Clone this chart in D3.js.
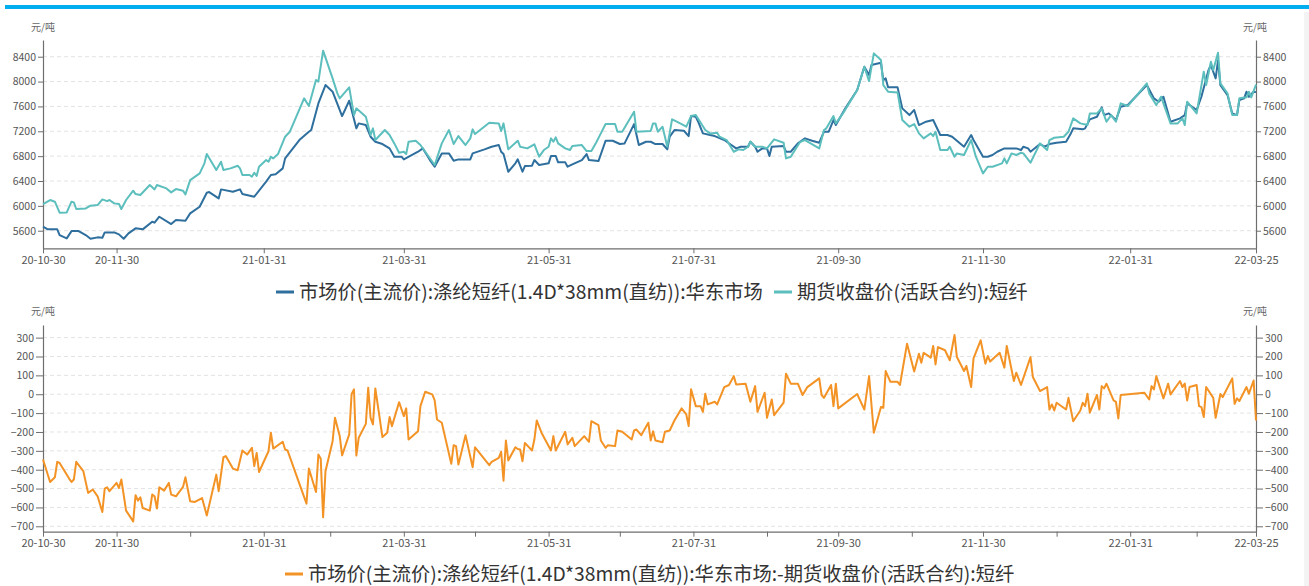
<!DOCTYPE html>
<html><head><meta charset="utf-8">
<script src="https://cdn.jsdelivr.net/npm/d3@7/dist/d3.min.js"></script>
<style>
body{margin:0;background:#fff;}
svg{display:block;font-family:"Noto Sans CJK SC","Microsoft YaHei",sans-serif;}
</style></head><body>
<svg id="c" width="1309" height="586"></svg>
<script>
// ---------------- DATA ----------------
const unitLabel = "元/吨";
const spotName = "市场价(主流价):涤纶短纤(1.4D*38mm(直纺)):华东市场";
const futuresName = "期货收盘价(活跃合约):短纤";
const spreadName = "市场价(主流价):涤纶短纤(1.4D*38mm(直纺)):华东市场:-期货收盘价(活跃合约):短纤";

const labelTicks = ["2020-10-30","2020-11-30","2021-01-31","2021-03-31","2021-05-31","2021-07-31","2021-09-30","2021-11-30","2022-01-31","2022-03-25"];
const minorTicks = ["2020-12-31","2021-02-28","2021-04-30","2021-06-30","2021-08-31","2021-10-31","2021-12-31","2022-02-28"];
const priceTicks = [5600,6000,6400,6800,7200,7600,8000,8400];
const spreadTicks = [-700,-600,-500,-400,-300,-200,-100,0,100,200,300];

const spotSeries = [
["2020-10-30",5664],["2020-11-01",5622],["2020-11-05",5622],["2020-11-06",5530],["2020-11-09",5477],["2020-11-11",5594],["2020-11-14",5594],["2020-11-17",5530],["2020-11-19",5471],["2020-11-22",5493],["2020-11-24",5487],["2020-11-25",5573],["2020-11-29",5573],["2020-12-01",5541],["2020-12-03",5471],["2020-12-05",5557],["2020-12-08",5638],["2020-12-11",5622],["2020-12-15",5745],["2020-12-16",5729],["2020-12-18",5825],["2020-12-23",5707],["2020-12-25",5771],["2020-12-29",5761],["2020-12-31",5879],
["2021-01-04",5986],["2021-01-07",6211],["2021-01-08",6222],["2021-01-12",6120],["2021-01-13",6265],["2021-01-18",6228],["2021-01-21",6265],["2021-01-22",6190],["2021-01-27",6147],["2021-02-01",6389],["2021-02-03",6496],["2021-02-05",6507],["2021-02-08",6603],["2021-02-09",6764],["2021-02-15",7059],["2021-02-19",7193],["2021-02-20",7220],["2021-02-23",7649],["2021-02-26",7944],["2021-03-01",7837],["2021-03-05",7445],["2021-03-08",7692],["2021-03-11",7247],["2021-03-12",7327],["2021-03-15",7300],["2021-03-17",7113],["2021-03-19",7032],["2021-03-22",6995],["2021-03-25",6925],["2021-03-27",6791],["2021-03-30",6791],["2021-03-31",6748],
["2021-04-06",6871],["2021-04-08",6925],["2021-04-11",6737],["2021-04-13",6630],["2021-04-16",6844],["2021-04-19",6844],["2021-04-21",6726],["2021-04-23",6748],["2021-04-28",6748],["2021-04-29",6844],["2021-05-04",6909],["2021-05-07",6952],["2021-05-10",6979],["2021-05-11",6871],["2021-05-12",6834],["2021-05-14",6549],["2021-05-17",6684],["2021-05-18",6748],["2021-05-20",6549],["2021-05-21",6641],["2021-05-24",6646],["2021-05-25",6737],["2021-05-27",6657],["2021-05-31",6684],
["2021-06-01",6802],["2021-06-03",6802],["2021-06-04",6700],["2021-06-07",6700],["2021-06-08",6630],["2021-06-10",6667],["2021-06-14",6737],["2021-06-16",6834],["2021-06-17",6737],["2021-06-21",6721],["2021-06-24",7048],["2021-06-27",7048],["2021-06-30",6995],["2021-07-02",7005],["2021-07-06",7316],["2021-07-08",6979],["2021-07-11",7032],["2021-07-13",7032],["2021-07-15",6995],["2021-07-18",6995],["2021-07-20",6909],["2021-07-21",7113],["2021-07-23",7220],["2021-07-27",7209],["2021-07-29",7123],["2021-07-30",7445],
["2021-08-01",7434],["2021-08-02",7354],["2021-08-04",7166],["2021-08-07",7140],["2021-08-09",7123],["2021-08-13",7059],["2021-08-16",6979],["2021-08-18",6925],["2021-08-20",6952],["2021-08-23",6952],["2021-08-24",7032],["2021-08-26",6952],["2021-08-27",6871],["2021-08-29",6925],["2021-08-31",6925],["2021-09-01",6802],["2021-09-02",6952],["2021-09-07",6962],["2021-09-08",6871],["2021-09-10",6871],["2021-09-13",7005],["2021-09-16",7086],["2021-09-19",7048],["2021-09-22",7016],["2021-09-24",7193],["2021-09-26",7193],["2021-09-28",7381],["2021-09-29",7300],
["2021-10-03",7569],["2021-10-08",7864],["2021-10-11",8239],["2021-10-13",8105],["2021-10-14",8266],["2021-10-18",8303],["2021-10-19",8024],["2021-10-20",8051],["2021-10-21",7907],["2021-10-25",7907],["2021-10-27",7569],["2021-10-30",7461],["2021-11-01",7542],["2021-11-03",7300],["2021-11-06",7354],["2021-11-09",7381],["2021-11-12",7140],["2021-11-15",7140],["2021-11-17",7113],["2021-11-22",6952],["2021-11-25",7140],["2021-11-26",7059],["2021-11-30",6791],
["2021-12-02",6791],["2021-12-04",6818],["2021-12-06",6871],["2021-12-09",6925],["2021-12-14",6925],["2021-12-16",6898],["2021-12-17",6952],["2021-12-19",6925],["2021-12-20",6871],["2021-12-24",6995],["2021-12-26",6952],["2021-12-28",6995],["2021-12-31",7016],
["2022-01-04",7032],["2022-01-06",7166],["2022-01-07",7247],["2022-01-11",7231],["2022-01-12",7247],["2022-01-14",7392],["2022-01-17",7434],["2022-01-19",7585],["2022-01-20",7461],["2022-01-22",7488],["2022-01-25",7381],["2022-01-27",7595],["2022-01-30",7622],["2022-02-07",7944],["2022-02-10",7730],["2022-02-12",7676],["2022-02-14",7756],["2022-02-17",7354],["2022-02-21",7408],["2022-02-23",7461],["2022-02-24",7649],["2022-02-28",7542],
["2022-03-02",7756],["2022-03-05",8185],["2022-03-06",8266],["2022-03-08",8051],["2022-03-09",8340],["2022-03-10",7944],["2022-03-13",7783],["2022-03-15",7488],["2022-03-17",7461],["2022-03-18",7703],["2022-03-20",7730],["2022-03-21",7837],["2022-03-22",7756],["2022-03-24",7837],["2022-03-25",7830]
];

const futuresSeries = [
["2020-10-30",6029],["2020-11-02",6094],["2020-11-04",6067],["2020-11-06",5890],["2020-11-09",5895],["2020-11-11",6067],["2020-11-12",6056],["2020-11-13",5949],["2020-11-17",5959],["2020-11-19",6002],["2020-11-22",6013],["2020-11-24",6104],["2020-11-26",6077],["2020-11-27",6094],["2020-11-29",6040],["2020-12-01",6029],["2020-12-02",5949],["2020-12-04",6094],["2020-12-07",6244],["2020-12-08",6190],["2020-12-10",6174],["2020-12-14",6335],["2020-12-16",6265],["2020-12-17",6335],["2020-12-21",6281],["2020-12-23",6217],["2020-12-25",6270],["2020-12-28",6244],["2020-12-29",6185],["2020-12-31",6415],
["2021-01-04",6523],["2021-01-06",6684],["2021-01-07",6834],["2021-01-11",6576],["2021-01-13",6710],["2021-01-14",6576],["2021-01-17",6603],["2021-01-20",6646],["2021-01-21",6603],["2021-01-22",6496],["2021-01-25",6496],["2021-01-26",6469],["2021-01-27",6533],["2021-01-28",6480],["2021-01-29",6630],["2021-02-01",6737],["2021-02-02",6710],["2021-02-03",6791],["2021-02-04",6764],["2021-02-06",6834],["2021-02-09",7113],["2021-02-11",7193],["2021-02-17",7730],["2021-02-19",7606],["2021-02-22",8024],["2021-02-23",7998],["2021-02-25",8497],
["2021-03-01",8051],["2021-03-03",7810],["2021-03-04",7730],["2021-03-08",7907],["2021-03-10",7461],["2021-03-11",7569],["2021-03-15",7434],["2021-03-17",7140],["2021-03-18",7247],["2021-03-19",7059],["2021-03-23",7220],["2021-03-25",7140],["2021-03-27",7005],["2021-03-29",6855],["2021-03-31",6871],["2021-04-01",6834],["2021-04-02",7032],["2021-04-05",7048],["2021-04-07",6979],["2021-04-13",6657],["2021-04-16",7005],["2021-04-19",7220],["2021-04-21",6995],["2021-04-23",7123],["2021-04-26",6979],["2021-04-28",7086],["2021-04-29",7231],["2021-04-30",7156],
["2021-05-06",7338],["2021-05-10",7327],["2021-05-11",7204],["2021-05-12",7327],["2021-05-14",6909],["2021-05-18",7048],["2021-05-19",6952],["2021-05-22",6925],["2021-05-25",6990],["2021-05-27",6791],["2021-05-29",6898],["2021-05-31",6952],["2021-06-01",7086],["2021-06-02",7032],["2021-06-03",7102],["2021-06-04",7005],["2021-06-07",6925],["2021-06-09",6898],["2021-06-10",6962],["2021-06-14",6979],["2021-06-16",6882],["2021-06-18",6882],["2021-06-20",7016],["2021-06-22",7166],["2021-06-24",7316],["2021-06-28",7316],["2021-06-29",7193],
["2021-07-01",7193],["2021-07-06",7515],["2021-07-07",7193],["2021-07-13",7204],["2021-07-14",7327],["2021-07-15",7327],["2021-07-16",7193],["2021-07-18",7274],["2021-07-20",6952],["2021-07-22",7392],["2021-07-24",7354],["2021-07-28",7274],["2021-07-30",7445],["2021-08-01",7461],["2021-08-05",7220],["2021-08-07",7166],["2021-08-10",7177],["2021-08-11",7113],["2021-08-14",7059],["2021-08-17",6871],["2021-08-19",6909],["2021-08-21",6898],["2021-08-23",6952],["2021-08-24",7032],["2021-08-26",6952],["2021-08-29",6952],["2021-08-31",6925],
["2021-09-03",7070],["2021-09-07",7016],["2021-09-08",6764],["2021-09-10",6791],["2021-09-14",7032],["2021-09-16",7059],["2021-09-22",6925],["2021-09-24",7220],["2021-09-25",7247],["2021-09-28",7445],["2021-09-29",7327],["2021-10-02",7488],["2021-10-08",7864],["2021-10-11",8239],["2021-10-13",8008],["2021-10-15",8454],["2021-10-18",8346],["2021-10-19",7944],["2021-10-21",7837],["2021-10-25",7826],["2021-10-27",7381],["2021-10-30",7274],
["2021-11-01",7316],["2021-11-03",7166],["2021-11-05",7086],["2021-11-08",7166],["2021-11-09",7123],["2021-11-10",7193],["2021-11-12",6898],["2021-11-15",6898],["2021-11-16",6952],["2021-11-18",6791],["2021-11-19",6844],["2021-11-22",6818],["2021-11-25",7059],["2021-11-27",6791],["2021-11-30",6523],["2021-12-02",6630],["2021-12-04",6630],["2021-12-08",6684],["2021-12-09",6764],["2021-12-10",6684],["2021-12-12",6844],["2021-12-14",6818],["2021-12-16",6855],["2021-12-17",6844],["2021-12-20",6694],["2021-12-24",7005],["2021-12-27",6898],["2021-12-28",7059],["2021-12-30",7096],
["2022-01-03",7113],["2022-01-05",7193],["2022-01-07",7408],["2022-01-10",7327],["2022-01-13",7300],["2022-01-14",7488],["2022-01-17",7488],["2022-01-19",7569],["2022-01-21",7354],["2022-01-23",7461],["2022-01-25",7354],["2022-01-27",7649],["2022-01-30",7606],["2022-02-07",7971],["2022-02-08",7810],["2022-02-11",7622],["2022-02-13",7756],["2022-02-17",7327],["2022-02-20",7327],["2022-02-22",7408],["2022-02-23",7300],["2022-02-24",7676],["2022-02-28",7488],
["2022-03-03",8159],["2022-03-04",7944],["2022-03-06",8319],["2022-03-07",8185],["2022-03-09",8464],["2022-03-10",7971],["2022-03-13",7810],["2022-03-15",7461],["2022-03-17",7461],["2022-03-18",7730],["2022-03-21",7746],["2022-03-22",7837],["2022-03-23",7746],["2022-03-25",7950]
];

const spreadSeries = [
["2020-10-30",-346],["2020-11-02",-465],["2020-11-04",-440],["2020-11-05",-358],["2020-11-06",-364],["2020-11-10",-447],["2020-11-11",-465],["2020-11-12",-452],["2020-11-13",-358],["2020-11-16",-408],["2020-11-18",-523],["2020-11-20",-505],["2020-11-22",-541],["2020-11-24",-624],["2020-11-25",-500],["2020-11-26",-493],["2020-11-27",-514],["2020-11-30",-470],["2020-12-01",-497],["2020-12-02",-452],["2020-12-04",-617],["2020-12-07",-674],["2020-12-08",-535],["2020-12-09",-564],["2020-12-10",-546],["2020-12-11",-603],["2020-12-14",-617],["2020-12-15",-532],["2020-12-16",-541],["2020-12-17",-606],["2020-12-18",-493],["2020-12-20",-511],["2020-12-22",-470],["2020-12-23",-532],["2020-12-25",-541],["2020-12-28",-491],["2020-12-29",-440],["2020-12-31",-567],
["2021-01-02",-571],["2021-01-05",-550],["2021-01-07",-643],["2021-01-11",-426],["2021-01-12",-514],["2021-01-14",-334],["2021-01-15",-328],["2021-01-18",-394],["2021-01-20",-403],["2021-01-22",-298],["2021-01-24",-320],["2021-01-26",-284],["2021-01-27",-381],["2021-01-28",-311],["2021-01-29",-412],["2021-02-02",-302],["2021-02-03",-204],["2021-02-04",-288],["2021-02-08",-252],["2021-02-09",-293],["2021-02-10",-298],["2021-02-18",-580],["2021-02-19",-394],["2021-02-22",-518],["2021-02-23",-320],["2021-02-24",-342],["2021-02-25",-652],["2021-02-26",-408],
["2021-03-01",-249],["2021-03-02",-125],["2021-03-04",-222],["2021-03-05",-324],["2021-03-08",-213],["2021-03-09",1],["2021-03-10",26],["2021-03-11",-325],["2021-03-12",-231],["2021-03-15",-157],["2021-03-16",34],["2021-03-17",-125],["2021-03-18",-160],["2021-03-19",31],["2021-03-22",-227],["2021-03-24",-204],["2021-03-25",-121],["2021-03-26",-169],["2021-03-29",-42],["2021-03-31",-116],["2021-04-01",-75],["2021-04-02",-240],["2021-04-06",-196],["2021-04-07",-63],["2021-04-09",13],["2021-04-12",-1],["2021-04-13",-33],["2021-04-14",-134],["2021-04-16",-151],["2021-04-20",-369],["2021-04-21",-270],["2021-04-22",-275],["2021-04-23",-373],["2021-04-26",-217],["2021-04-29",-387],["2021-04-30",-281],
["2021-05-06",-376],["2021-05-07",-358],["2021-05-10",-337],["2021-05-11",-305],["2021-05-12",-458],["2021-05-13",-245],["2021-05-14",-351],["2021-05-17",-281],["2021-05-18",-290],["2021-05-19",-293],["2021-05-20",-355],["2021-05-21",-258],["2021-05-24",-298],["2021-05-25",-240],["2021-05-26",-139],["2021-05-28",-204],["2021-06-01",-298],["2021-06-02",-222],["2021-06-03",-298],["2021-06-07",-199],["2021-06-08",-266],["2021-06-10",-231],["2021-06-11",-275],["2021-06-15",-222],["2021-06-17",-252],["2021-06-18",-143],["2021-06-21",-164],["2021-06-22",-245],["2021-06-24",-284],["2021-06-25",-270],["2021-06-28",-275],["2021-06-29",-192],
["2021-07-01",-199],["2021-07-05",-240],["2021-07-06",-192],["2021-07-07",-187],["2021-07-09",-217],["2021-07-12",-151],["2021-07-13",-245],["2021-07-14",-196],["2021-07-15",-245],["2021-07-18",-254],["2021-07-19",-199],["2021-07-21",-192],["2021-07-23",-139],["2021-07-26",-75],["2021-07-28",-107],["2021-07-29",-169],["2021-07-30",26],["2021-08-01",-63],["2021-08-03",-63],["2021-08-04",-93],["2021-08-05",3],["2021-08-06",-54],["2021-08-09",-40],["2021-08-10",-54],["2021-08-13",38],["2021-08-15",49],["2021-08-17",96],["2021-08-18",52],["2021-08-22",56],["2021-08-24",-40],["2021-08-26",43],["2021-08-27",-93],["2021-08-30",8],["2021-08-31",-125],
["2021-09-02",-28],["2021-09-03",-111],["2021-09-07",-45],["2021-09-08",109],["2021-09-10",56],["2021-09-13",56],["2021-09-15",-4],["2021-09-17",38],["2021-09-22",84],["2021-09-23",-4],["2021-09-24",-19],["2021-09-27",49],["2021-09-28",-63],["2021-09-29",56],["2021-09-30",-75],["2021-10-08",1],["2021-10-11",-81],["2021-10-13",96],["2021-10-15",-204],["2021-10-18",-68],["2021-10-19",-72],["2021-10-20",123],["2021-10-22",66],["2021-10-25",66],["2021-10-26",49],["2021-10-29",268],
["2021-11-01",120],["2021-11-03",215],["2021-11-04",167],["2021-11-05",220],["2021-11-08",194],["2021-11-09",256],["2021-11-10",158],["2021-11-11",250],["2021-11-14",233],["2021-11-16",180],["2021-11-18",314],["2021-11-19",197],["2021-11-22",123],["2021-11-23",150],["2021-11-25",38],["2021-11-26",190],["2021-11-29",286],["2021-12-01",162],["2021-12-02",203],["2021-12-03",173],["2021-12-07",220],["2021-12-09",141],["2021-12-10",256],["2021-12-13",70],["2021-12-14",114],["2021-12-16",49],["2021-12-20",197],["2021-12-21",91],["2021-12-24",17],["2021-12-27",38],["2021-12-28",-81],["2021-12-29",-54],["2021-12-30",-86],["2021-12-31",-45],
["2022-01-04",-81],["2022-01-05",-19],["2022-01-07",-143],["2022-01-10",-86],["2022-01-11",-45],["2022-01-12",-63],["2022-01-13",3],["2022-01-14",-98],["2022-01-17",-4],["2022-01-18",-81],["2022-01-19",43],["2022-01-20",31],["2022-01-21",56],["2022-01-24",-33],["2022-01-25",-40],["2022-01-26",-128],["2022-01-27",-4],["2022-02-06",8],["2022-02-08",-28],["2022-02-09",43],["2022-02-10",26],["2022-02-11",96],["2022-02-14",-22],["2022-02-16",56],["2022-02-17",-1],["2022-02-21",70],["2022-02-22",38],["2022-02-23",56],["2022-02-24",-33],["2022-02-25",38],["2022-02-28",49],
["2022-03-01",-63],["2022-03-02",-68],["2022-03-03",-121],["2022-03-04",38],["2022-03-07",-19],["2022-03-08",-125],["2022-03-10",1],["2022-03-11",-15],["2022-03-15",84],["2022-03-16",-51],["2022-03-17",-22],["2022-03-18",-36],["2022-03-21",38],["2022-03-22",3],["2022-03-24",73],["2022-03-25",-139]
];

// ---------------- STYLE ----------------
const C = {spot:"#2e6f9e", fut:"#5cbfbd", spread:"#f39325", axis:"#6e6e6e", tick:"#555", grid:"#e3e3e3"};

const parse = d3.timeParse("%Y-%m-%d");
const fmt = d3.timeFormat("%y-%m-%d");
const iso = d3.timeFormat("%Y-%m-%d");
const svg = d3.select("#c");

svg.append("rect").attr("x",5).attr("y",5).attr("width",1304).attr("height",4).attr("fill","#00aeef");
svg.append("rect").attr("x",1304).attr("y",12).attr("width",5).attr("height",574).attr("fill","#f3f3f3");

const x = d3.scaleTime().domain([parse(labelTicks[0]), parse(labelTicks[labelTicks.length-1])]).range([43,1256]);
const labelSet = new Set(labelTicks);

function panel(cfg){
  const g = svg.append("g");
  const y = d3.scaleLinear().domain(cfg.domain).range([cfg.bottom, cfg.top]);
  // grid
  g.append("g").selectAll("line").data(cfg.yTicks).join("line")
    .attr("x1",43).attr("x2",1256).attr("y1",d=>y(d)).attr("y2",d=>y(d))
    .attr("stroke",C.grid).attr("stroke-dasharray","4,3").attr("stroke-width",1);
  // y axes
  const yf = d3.format("d");
  const yl = g.append("g").attr("transform","translate(43,0)")
    .call(d3.axisLeft(y).tickValues(cfg.yTicks).tickFormat(yf).tickSize(cfg.ytick).tickSizeOuter(0).tickPadding(2));
  const yr = g.append("g").attr("transform","translate(1256,0)")
    .call(d3.axisRight(y).tickValues(cfg.yTicks).tickFormat(yf).tickSize(cfg.ytick).tickSizeOuter(0).tickPadding(2));
  // x axis
  const xt = cfg.allTicks ? labelTicks.concat(minorTicks) : labelTicks;
  const xa = g.append("g").attr("transform",`translate(0,${cfg.bottom})`)
    .call(d3.axisBottom(x).tickValues(xt.map(parse)).tickSize(5).tickSizeOuter(0).tickPadding(3)
      .tickFormat(d=> labelSet.has(iso(d)) ? fmt(d) : ""));
  [yl,yr,xa].forEach(a=>{
    a.select(".domain").attr("stroke",C.axis).attr("stroke-width",1.2);
    a.selectAll(".tick line").attr("stroke",C.axis);
    a.selectAll("text").attr("fill",C.tick).style("font-family",'"Noto Sans CJK SC",sans-serif');
  });
  yl.selectAll("text").style("font-size","10.5px");
  yr.selectAll("text").style("font-size","10.5px");
  xa.selectAll("text").style("font-size","11px");
  // unit labels
  [43,1255].forEach(px=>g.append("text").attr("x",px).attr("y",cfg.unitY).attr("text-anchor","middle")
      .attr("font-size",10).attr("fill","#666").text(unitLabel));
  // lines
  const line = d3.line().x(d=>x(parse(d[0]))).y(d=>y(d[1]));
  cfg.series.forEach(s=>{
    g.append("path").datum(s.data).attr("d",line).attr("fill","none")
      .attr("stroke",s.color).attr("stroke-width",2).attr("stroke-linejoin","round");
  });
  // legend
  cfg.legend.forEach(l=>{
    g.append("line").attr("x1",l.x).attr("x2",l.x+18).attr("y1",cfg.legendY).attr("y2",cfg.legendY)
      .attr("stroke",l.color).attr("stroke-width",3);
    g.append("text").attr("x",l.x+23).attr("y",cfg.legendY).attr("dy","0.35em")
      .attr("font-size",19.3).attr("fill","#333").text(l.name);
  });
}

panel({domain:[5317,8669], top:40, bottom:248.3, yTicks:priceTicks, ytick:5, allTicks:false, unitY:31,
  series:[{data:spotSeries,color:C.spot},{data:futuresSeries,color:C.fut}],
  legendY:292, legend:[{x:276,name:spotName,color:C.spot},{x:774,name:futuresName,color:C.fut}]});

panel({domain:[-728.6,367], top:325, bottom:531.7, yTicks:spreadTicks, ytick:7, allTicks:true, unitY:315,
  series:[{data:spreadSeries,color:C.spread}],
  legendY:574, legend:[{x:285,name:spreadName,color:C.spread}]});
</script>
</body></html>
